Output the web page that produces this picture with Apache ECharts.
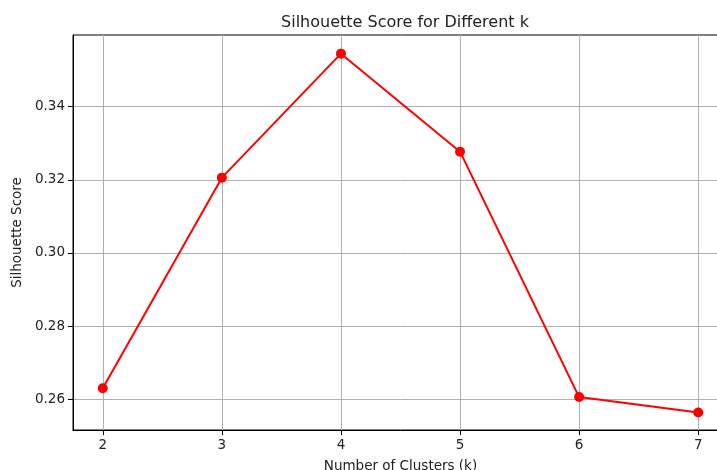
<!DOCTYPE html>
<html>
<head>
<meta charset="utf-8">
<script src="https://cdn.jsdelivr.net/npm/echarts@6/dist/echarts.min.js"></script>
<style>
  html, body { margin: 0; padding: 0; background: #fff; overflow: hidden; }
  #chart { width: 740px; height: 470px; }
</style>
</head>
<body>
<div id="chart"></div>
<script>
// 数据
var clusters = [2, 3, 4, 5, 6, 7];
var scores = [0.2630, 0.3206, 0.3545, 0.3277, 0.2606, 0.2564];
var xTicks = [2, 3, 4, 5, 6, 7];
var yTicks = [0.26, 0.28, 0.30, 0.32, 0.34];

var chart = echarts.init(document.getElementById('chart'));

var font = 'DejaVu Sans';
var textColor = '#222';

var option = {
  animation: false,
  //大标题
  title: {
    text: 'Silhouette Score for Different k',
    left: 400,
    textAlign: 'center',
    top: 10,
    textStyle: { fontFamily: font, fontSize: 16, fontWeight: 'normal', color: textColor }
  },
  // 图右侧超出窗口
  grid: {
    left: 73, top: 35, right: 12, bottom: 40,
    outerBoundsMode: 'none',
    containLabel: false,
    show: true, borderColor: '#000', borderWidth: 1
  },
  xAxis: {
    type: 'value',
    min: 1.75, max: 7.25,
    name: 'Number of Clusters (k)',
    nameLocation: 'middle',
    nameGap: 29,
    nameTextStyle: { fontFamily: font, fontSize: 13.5, color: textColor },
    axisLine: { show: true, lineStyle: { color: '#000', width: 1 } },
    axisTick: { show: true, length: 5, customValues: xTicks, lineStyle: { color: '#000' } },
    axisLabel: { customValues: xTicks, fontFamily: font, fontSize: 13.5, color: textColor, margin: 8 },
    splitLine: { show: true, lineStyle: { color: '#b0b0b0', width: 1 } }
  },
  yAxis: {
    type: 'value',
    min: 0.2516, max: 0.3596,
    name: 'Silhouette Score',
    nameLocation: 'middle',
    nameRotate: 90,
    nameGap: 46,
    nameTextStyle: { fontFamily: font, fontSize: 13.5, color: textColor },
    axisLine: { show: true, lineStyle: { color: '#000', width: 1 } },
    axisTick: { show: true, length: 5, customValues: yTicks, lineStyle: { color: '#000' } },
    axisLabel: {
      customValues: yTicks, fontFamily: font, fontSize: 13.5, color: textColor, margin: 8,
      formatter: function (v) { return v.toFixed(2); }
    },
    splitLine: { show: true, lineStyle: { color: '#b0b0b0', width: 1 } }
  },
  series: [{
    type: 'line',
    data: clusters.map(function (k, i) { return [k, scores[i]]; }),
    symbol: 'circle',
    symbolSize: 10,
    lineStyle: { color: '#ff0000', width: 2 },
    itemStyle: { color: '#ff0000' }
  }]
};

chart.setOption(option);
</script>
</body>
</html>
